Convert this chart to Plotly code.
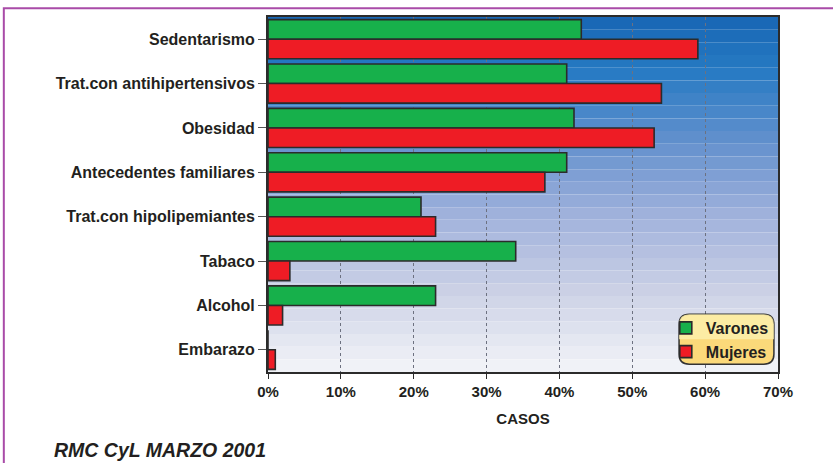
import plotly.graph_objects as go

# Factores de riesgo y porcentaje de casos por sexo
factores = ["Sedentarismo", "Trat.con antihipertensivos", "Obesidad",
            "Antecedentes familiares", "Trat.con hipolipemiantes",
            "Tabaco", "Alcohol", "Embarazo"]
varones = [43, 41, 42, 41, 21, 34, 23, 0]
mujeres = [59, 54, 53, 38, 23, 3, 2, 1]
ticks_x = [0, 10, 20, 30, 40, 50, 60, 70]
ticks_txt = [f"{t}%" for t in ticks_x]

FONT = "Liberation Sans, Arial, sans-serif"
LINEA = "#2b2b2b"
TEXTO = "#231f20"

fig = go.Figure()
fig.add_trace(go.Bar(y=factores, x=varones, name="Varones", orientation="h",
                     marker=dict(color="#17b04b", line=dict(color=LINEA, width=1.6))))
fig.add_trace(go.Bar(y=factores, x=mujeres, name="Mujeres", orientation="h",
                     marker=dict(color="#ee1c25", line=dict(color=LINEA, width=1.6))))

# Fondo degradado en bandas horizontales (azul arriba, casi blanco abajo)
paradas = [(0.0, (24, 102, 180)), (0.15, (38, 122, 195)), (0.35, (98, 144, 205)),
           (0.55, (158, 176, 219)), (0.78, (205, 210, 230)), (1.0, (243, 245, 249))]


def color_en(t):
    for (t0, c0), (t1, c1) in zip(paradas[:-1], paradas[1:]):
        if t0 <= t <= t1:
            f = (t - t0) / (t1 - t0)
            return "rgb(%d,%d,%d)" % tuple(round(a + (b - a) * f) for a, b in zip(c0, c1))
    return "rgb(%d,%d,%d)" % paradas[-1][1]


n_bandas = 28
shapes = []
for i in range(n_bandas):
    t = (i + 0.5) / n_bandas
    shapes.append(dict(type="rect", xref="x domain", yref="y domain",
                       x0=0, x1=1, y0=1 - (i + 1) / n_bandas, y1=1 - i / n_bandas,
                       fillcolor=color_en(t), line=dict(width=0), layer="below"))

# Marco exterior morado
shapes.append(dict(type="rect", xref="paper", yref="paper",
                   x0=-0.518, x1=1.2, y0=-0.34, y1=1.025,
                   line=dict(color="#a94ba8", width=2), fillcolor="rgba(0,0,0,0)"))

# Caja redondeada de la leyenda con degradado amarillo
lx0, lx1, ly0, ly1, r = 0.806, 0.992, 0.022, 0.163, 0.02
ry = r * 510 / 355
caja = (f"M {lx0+r},{ly1} L {lx1-r},{ly1} Q {lx1},{ly1} {lx1},{ly1-ry} "
        f"L {lx1},{ly0+ry} Q {lx1},{ly0} {lx1-r},{ly0} L {lx0+r},{ly0} "
        f"Q {lx0},{ly0} {lx0},{ly0+ry} L {lx0},{ly1-ry} Q {lx0},{ly1} {lx0+r},{ly1} Z")
shapes.append(dict(type="path", xref="x domain", yref="y domain", path=caja,
                   fillcolor="#fbd97a", line=dict(color="#333333", width=1.5)))
caja_sup = (f"M {lx0+r},{ly1} L {lx1-r},{ly1} Q {lx1},{ly1} {lx1},{ly1-ry} "
            f"L {lx1},{(ly0+ly1)/2} L {lx0},{(ly0+ly1)/2} L {lx0},{ly1-ry} "
            f"Q {lx0},{ly1} {lx0+r},{ly1} Z")
shapes.append(dict(type="path", xref="x domain", yref="y domain", path=caja_sup,
                   fillcolor="rgba(253,240,175,0.8)", line=dict(width=0)))

fig.update_layout(
    width=833, height=463,
    margin=dict(l=268, r=55, t=17, b=91),
    paper_bgcolor="white", plot_bgcolor="rgba(0,0,0,0)",
    barmode="group", bargap=0.12, bargroupgap=0.0,
    font=dict(family=FONT, color=TEXTO),
    showlegend=True,
    legend=dict(x=0.78, y=0.172, xanchor="left", yanchor="top",
                bgcolor="rgba(0,0,0,0)", borderwidth=0,
                font=dict(family=FONT, size=16, color=TEXTO, weight="bold"),
                tracegroupgap=0, itemwidth=30),
    shapes=shapes,
    annotations=[
        dict(text="<b><i>RMC CyL MARZO 2001</i></b>", xref="paper", yref="paper",
             x=-0.424, y=-0.22, xanchor="left", yanchor="middle", showarrow=False,
             font=dict(family=FONT, size=19.5, color=TEXTO)),
    ],
)

fig.update_xaxes(
    range=[0, 70], tickvals=ticks_x, ticktext=ticks_txt,
    showgrid=True, gridcolor="#6d7180", griddash="dot", gridwidth=1,
    showline=True, linecolor=LINEA, linewidth=2, mirror=True,
    ticks="outside", ticklen=5, tickcolor=LINEA,
    tickfont=dict(family=FONT, size=15, color=TEXTO, weight="bold"),
    title=dict(text="<b>CASOS</b>", font=dict(family=FONT, size=15, color=TEXTO),
               standoff=14),
    zeroline=False, layer="above traces",
)
fig.update_yaxes(
    autorange="reversed",
    showline=True, linecolor=LINEA, linewidth=2, mirror=True,
    ticks="outside", ticklen=8, tickcolor="#555555",
    tickfont=dict(family=FONT, size=16, color=TEXTO, weight="bold"),
    showgrid=False,
)

fig.write_html("out.html")
